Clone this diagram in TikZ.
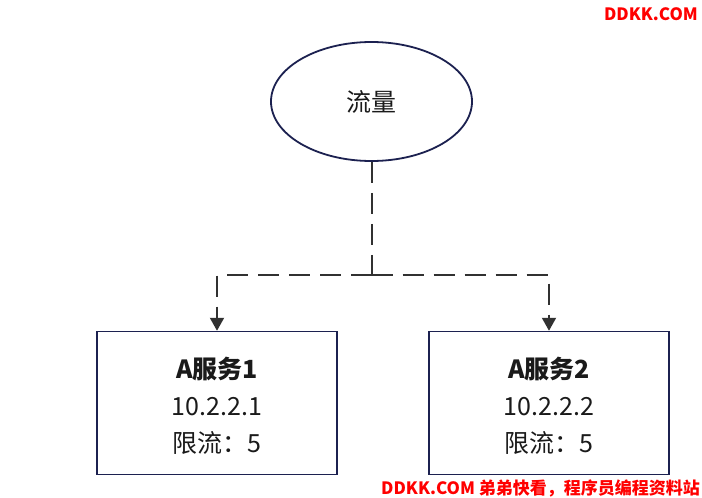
\documentclass[tikz,border=0pt]{standalone}
\usepackage{fontspec}
\setmainfont{Noto Sans CJK SC}
\usetikzlibrary{shapes.geometric,arrows.meta}
\definecolor{navy}{HTML}{1C2150}
\definecolor{ink}{HTML}{1A1A1A}
\definecolor{wm}{HTML}{FF0000}
\tikzset{
  flowell/.style={ellipse,draw=navy,line width=1.8pt,minimum width=201pt,minimum height=119pt,inner sep=0pt,font=\fontsize{25}{28}\selectfont,text=ink},
  svcbox/.style={rectangle,draw=navy,line width=1.5pt,minimum width=240pt,minimum height=143pt,inner sep=0pt},
  svctext/.style={align=center,font=\fontsize{25}{37}\selectfont,text=ink,inner sep=0pt},
  conn/.style={draw=ink!90,line width=2pt,dash pattern=on 21pt off 10pt},
  tip/.style={-{Triangle[width=14pt,length=13pt]}},
  wmark/.style={text=wm,font=\fontsize{17}{20}\selectfont\bfseries,inner sep=0pt}
}
\begin{document}
\begin{tikzpicture}[x=1pt,y=-1pt]
\useasboundingbox (0,0) rectangle (702,498);
\node[flowell] (flow) at (371.5,101.5) {流量};
\node[svcbox] (b1) at (217,403) {};
\node[svcbox] (b2) at (549,403) {};
\node[svctext] (t1) at (217,406) {\textbf{A服务1}\\10.2.2.1\\限流：5};
\node[svctext] (t2) at (549,406) {\textbf{A服务2}\\10.2.2.2\\限流：5};
\coordinate (j) at (371.5,275);
\draw[conn] (flow.south) -- (j);
\draw[conn,tip] (j) -| (b1.north);
\draw[conn,tip] (j) -| (b2.north);
\node[wmark,anchor=east] (wm1) at (698,14) {DDKK.COM};
\node[wmark,anchor=east] (wm2) at (700,488) {DDKK.COM 弟弟快看，程序员编程资料站};
\end{tikzpicture}
\end{document}
